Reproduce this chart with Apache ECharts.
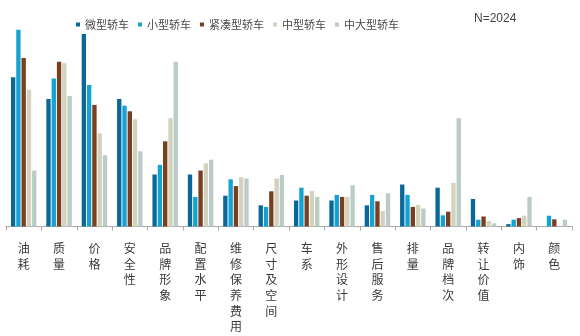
<!DOCTYPE html>
<html>
<head>
<meta charset="utf-8">
<script src="https://cdn.jsdelivr.net/npm/echarts@6/dist/echarts.min.js"></script>
<style>
html,body{margin:0;padding:0;background:#fff;}
#main{width:580px;height:336px;}
</style>
</head>
<body>
<div id="main"></div>
<script>
var categories = ['油耗','质量','价格','安全性','品牌形象','配置水平','维修保养费用','尺寸及空间','车系','外形设计','售后服务','排量','品牌档次','转让价值','内饰','颜色'];
var seriesNames = ['微型轿车','小型轿车','紧凑型轿车','中型轿车','中大型轿车'];
var weiXing     = [37.3, 31.9, 48.1, 31.9, 13.0, 13.0,  7.7,  5.3, 6.5,  6.5, 5.3, 10.5,  9.7, 6.9, 0.6, 0];
var xiaoXing    = [49.2, 37.0, 35.4, 30.2, 15.4,  7.4, 11.8,  4.9, 9.7,  7.9, 7.9,  7.9,  2.8, 1.7, 1.7, 2.7];
var jinCouXing  = [42.1, 41.2, 30.4, 28.8, 21.3, 14.0, 10.1,  8.8, 7.7,  7.4, 6.3,  4.9,  3.7, 2.5, 2.1, 1.8];
var zhongXing   = [34.2, 40.8, 23.3, 26.8, 27.1, 15.8, 12.3, 12.0, 8.9,  7.4, 3.9,  5.4, 10.9, 1.4, 2.7, 0];
var zhongDaXing = [14.0, 32.6, 17.8, 18.8, 41.2, 16.7, 12.0, 12.9, 7.4, 10.3, 8.3,  4.5, 27.1, 0.8, 7.4, 1.7];
var sampleLabel = 'N=2024';
var colors = ['#0a6899','#14a2d3','#7a3f1e','#d2d2bf','#b9ccc5'];

var chart = echarts.init(document.getElementById('main'), null, {renderer:'canvas'});
var dataSets = [weiXing, xiaoXing, jinCouXing, zhongXing, zhongDaXing];
var series = seriesNames.map(function(n, i){
  return {
    name: n, type: 'bar', data: dataSets[i],
    barGap: '22%', barCategoryGap: '28%',
    itemStyle: {color: colors[i]},
    animation: false
  };
});
chart.setOption({
  animation: false,
  color: colors,
  textStyle: {fontFamily: '"Noto Sans CJK SC", sans-serif'},
  legend: {
    left: 71, top: 14,
    icon: 'rect', itemWidth: 4, itemHeight: 4, itemGap: 9,
    textStyle: {color: '#4a4a4a', fontSize: 11, fontFamily: '"Noto Sans CJK SC", sans-serif'},
    data: seriesNames
  },
  graphic: [{
    type: 'text', left: 474, top: 13,
    style: {text: sampleLabel, fill: '#444', fontSize: 12, fontFamily: 'Liberation Sans, Arial, sans-serif'}
  }],
  grid: {left: 6, right: 8, top: 26.5, bottom: 109.5, containLabel: false},
  xAxis: {
    type: 'category', data: categories,
    axisLine: {lineStyle: {color: '#aaaaaa', width: 1}},
    axisTick: {show: true, length: 4, lineStyle: {color: '#aaaaaa'}},
    axisLabel: {
      interval: 0, margin: 14, color: '#3a3a3a', fontSize: 12, lineHeight: 15.7,
      fontFamily: '"Noto Sans CJK SC", sans-serif',
      formatter: function(v){ return v.split('').join('\n'); }
    }
  },
  yAxis: {
    type: 'value', min: 0, max: 50, show: false,
    splitLine: {show: false}
  },
  series: series
});
</script>
</body>
</html>
